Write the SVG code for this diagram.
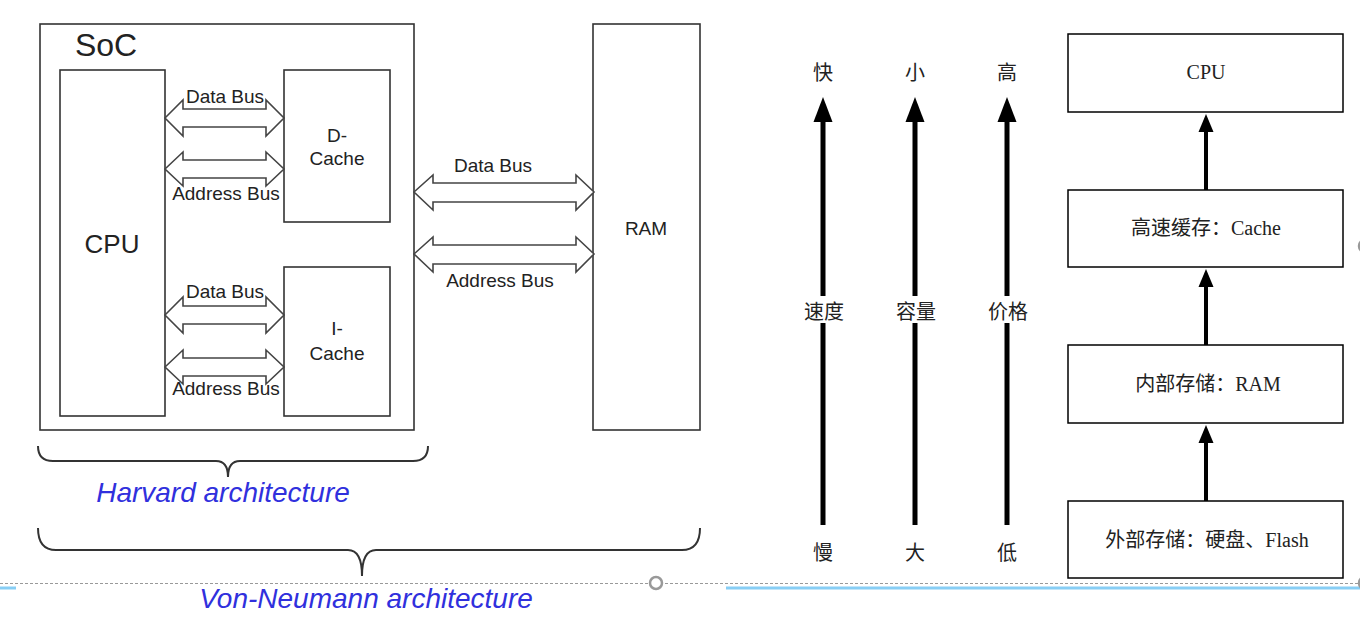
<svg xmlns="http://www.w3.org/2000/svg" width="1360" height="632" viewBox="0 0 1360 632">
<style>
.box{fill:#fff;stroke:#333;stroke-width:1.6}
.bus{fill:#fff;stroke:#444;stroke-width:1.6;stroke-linejoin:miter}
.lt{font-family:"Liberation Sans",Arial,sans-serif;fill:#222;text-anchor:middle}
.brace{fill:none;stroke:#333;stroke-width:2}
.arch{font-family:"Liberation Sans",Arial,sans-serif;font-style:italic;font-size:28px;fill:#3030dd}
.rbox{fill:#fff;stroke:#000;stroke-width:1.5}
.cj{font-family:"Liberation Serif","Noto Sans CJK SC",serif;font-size:20px;fill:#222;text-anchor:middle}
.shaft{stroke:#000;stroke-width:5}
.shaft2{stroke:#000;stroke-width:4}
</style>
<rect width="1360" height="632" fill="#fff"/>

<!-- Left: Harvard / Von-Neumann -->
<g id="soc"><rect class="box" x="40" y="24" width="374" height="406"/><text class="lt" x="106" y="56" font-size="32">SoC</text></g>
<g id="cpu-left"><rect class="box" x="60" y="70" width="105" height="346"/><text class="lt" x="112" y="253" font-size="26">CPU</text></g>
<g id="dcache"><rect class="box" x="284" y="70" width="106" height="152"/><text class="lt" x="337" y="142" font-size="19">D-</text><text class="lt" x="337" y="165" font-size="19">Cache</text></g>
<g id="icache"><rect class="box" x="284" y="267" width="106" height="149"/><text class="lt" x="337" y="335" font-size="19">I-</text><text class="lt" x="337" y="360" font-size="19">Cache</text></g>
<g id="ram-left"><rect class="box" x="593" y="24" width="107" height="406"/><text class="lt" x="646" y="235" font-size="19">RAM</text></g>

<g id="buses">
<polygon class="bus" points="165,118 183,100 183,109 266,109 266,100 284,118 266,136 266,127 183,127 183,136"/>
<polygon class="bus" points="165,169 183,152 183,160 266,160 266,152 284,169 266,186 266,178 183,178 183,186"/>
<polygon class="bus" points="165,315 183,297 183,306 266,306 266,297 284,315 266,333 266,324 183,324 183,333"/>
<polygon class="bus" points="165,367 183,350 183,358 266,358 266,350 284,367 266,384 266,376 183,376 183,384"/>
<polygon class="bus" points="414,192 433,175 433,183 576,183 576,175 594,192 576,210 576,202 433,202 433,210"/>
<polygon class="bus" points="414,254 433,237 433,245 576,245 576,237 594,254 576,272 576,264 433,264 433,272"/>
</g>
<g id="bus-labels">
<text class="lt" x="225" y="103" font-size="19">Data Bus</text>
<text class="lt" x="226" y="200" font-size="19">Address Bus</text>
<text class="lt" x="225" y="298" font-size="19">Data Bus</text>
<text class="lt" x="226" y="395" font-size="19">Address Bus</text>
<text class="lt" x="493" y="172" font-size="19">Data Bus</text>
<text class="lt" x="500" y="287" font-size="19">Address Bus</text>
</g>

<g id="harvard">
<path class="brace" d="M38,446 Q38,461 53,461 L216,461 Q228,461 228,477 Q228,461 240,461 L413,461 Q428,461 428,446"/>
<text class="arch" x="223" y="502" text-anchor="middle">Harvard architecture</text>
</g>
<g id="vonneumann">
<path class="brace" d="M38,528 Q38,550 56,550 L348,550 Q362,550 362,576 Q362,550 376,550 L682,550 Q700,550 700,528"/>
<text class="arch" x="366" y="608" text-anchor="middle">Von-Neumann architecture</text>
</g>

<!-- page decorations -->
<line x1="0" y1="583.5" x2="1360" y2="583.5" stroke="#999" stroke-width="1" stroke-dasharray="3,2"/>
<line x1="0" y1="588" x2="16" y2="588" stroke="#87CEF5" stroke-width="3"/>
<line x1="726" y1="588" x2="1360" y2="588" stroke="#87CEF5" stroke-width="3"/>
<circle cx="656" cy="583" r="6" fill="#fff" stroke="#999" stroke-width="2.5"/>
<circle cx="1365" cy="246" r="6" fill="#fff" stroke="#999" stroke-width="2.5"/>
<circle cx="1365" cy="583" r="6" fill="#fff" stroke="#999" stroke-width="2.5"/>

<!-- Right: memory hierarchy -->
<g id="scales">
<line class="shaft" x1="823" y1="120" x2="823" y2="525"/><polygon points="823,97 813.5,122 832.5,122"/>
<line class="shaft" x1="915" y1="120" x2="915" y2="525"/><polygon points="915,97 905.5,122 924.5,122"/>
<line class="shaft" x1="1007" y1="120" x2="1007" y2="525"/><polygon points="1007,97 997.5,122 1016.5,122"/>
<rect x="800" y="296" width="230" height="27" fill="#fff"/>
</g>
<g id="scale-labels">
<text class="cj" x="823" y="80">快</text><text class="cj" x="915" y="80">小</text><text class="cj" x="1007" y="80">高</text>
<text class="cj" x="824" y="319">速度</text><text class="cj" x="916" y="319">容量</text><text class="cj" x="1008" y="319">价格</text>
<text class="cj" x="823" y="560">慢</text><text class="cj" x="915" y="560">大</text><text class="cj" x="1007" y="560">低</text>
</g>

<g id="links">
<line class="shaft2" x1="1206" y1="130" x2="1206" y2="190"/><polygon points="1206,114 1198.5,132 1213.5,132"/>
<line class="shaft2" x1="1206" y1="285" x2="1206" y2="345"/><polygon points="1206,269 1198.5,287 1213.5,287"/>
<line class="shaft2" x1="1206" y1="440" x2="1206" y2="501"/><polygon points="1206,425 1198.5,443 1213.5,443"/>
</g>
<g id="n-cpu"><rect class="rbox" x="1068" y="34" width="275" height="78"/><text class="cj" x="1206" y="79">CPU</text></g>
<g id="n-cache"><rect class="rbox" x="1068" y="190" width="275" height="77"/><text class="cj" x="1206" y="235">高速缓存：Cache</text></g>
<g id="n-ram"><rect class="rbox" x="1068" y="345" width="275" height="78"/><text class="cj" x="1208" y="391">内部存储：RAM</text></g>
<g id="n-flash"><rect class="rbox" x="1068" y="501" width="275" height="77"/><text class="cj" x="1207" y="547">外部存储：硬盘、Flash</text></g>
</svg>
